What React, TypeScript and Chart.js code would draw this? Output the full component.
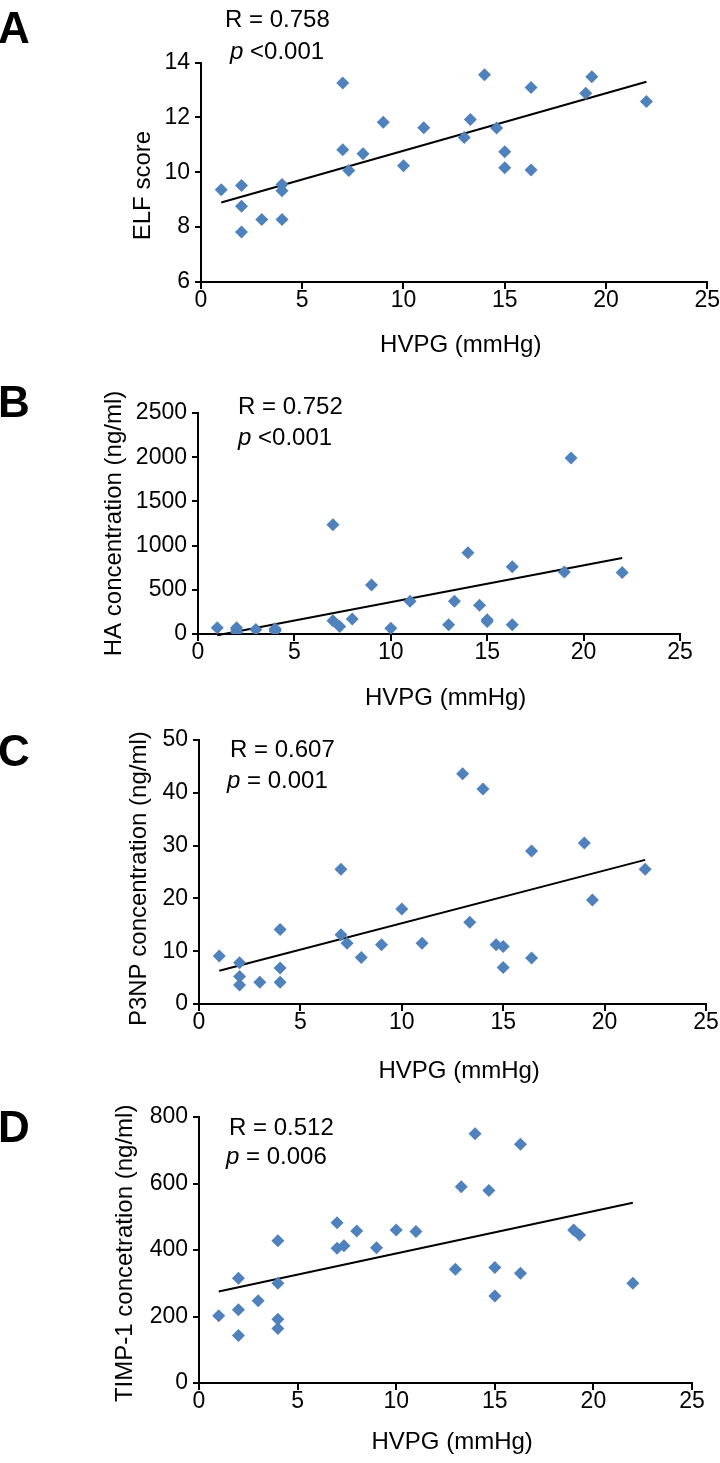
import React, { useEffect, useRef } from "react";
import { Chart, registerables } from "chart.js";

Chart.register(...registerables);

const FONT = '"Liberation Sans", Arial, Helvetica, sans-serif';
const POINT_COLOR = "#4F81BD";

// ---------- Data ----------
const xAxisTitle = "HVPG (mmHg)";
const xTickStep = 5;

// Panel A: ELF score
const hvpgA = [1, 2, 2, 2, 3, 4, 4, 4, 7, 7, 7.3, 8, 9, 10, 11, 13, 13.3, 14, 14.6, 15, 15, 16.3, 16.3, 19, 19.3, 22];
const elfScore = [9.36, 9.52, 8.76, 7.82, 8.28, 9.55, 9.33, 8.28, 13.25, 10.82, 10.06, 10.67, 11.82, 10.24, 11.62, 11.27, 11.92, 13.55, 11.61, 10.75, 10.16, 13.09, 10.08, 12.88, 13.48, 12.58];
const fitAX = [1, 22];
const fitAY = [8.9, 13.3];

// Panel B: HA concentration
const hvpgB = [1, 2, 2, 2, 3, 4, 4, 4, 7, 7, 7.35, 8, 9, 10, 11, 13, 13.3, 14, 14.6, 15, 15, 16.3, 16.3, 19, 19.35, 22];
const haConc = [70, 72, 50, 20, 50, 60, 45, 35, 1235, 150, 85, 170, 555, 65, 370, 105, 370, 920, 325, 160, 140, 760, 105, 700, 1990, 695];
const fitBX = [1, 22];
const fitBY = [-15, 860];

// Panel C: P3NP concentration
const hvpgC = [1, 2, 2, 2, 3, 4, 4, 4, 7, 7, 7.3, 8, 9, 10, 11, 13, 13.35, 14, 14.65, 15, 15, 16.4, 16.4, 19, 19.4, 22];
const p3npConc = [9.1, 7.8, 5.2, 3.6, 4.1, 14.1, 6.8, 4.1, 25.5, 13.1, 11.5, 8.8, 11.2, 18.0, 11.5, 43.6, 15.5, 40.7, 11.2, 10.9, 6.9, 29.0, 8.7, 30.5, 19.7, 25.5];
const fitCX = [1, 22];
const fitCY = [6.3, 27.3];

// Panel D: TIMP-1 concentration
const hvpgD = [1, 2, 2, 2, 3, 4, 4, 4, 4, 7, 7, 7.35, 8, 9, 10, 11, 13, 13.3, 14, 14.7, 15, 15, 16.3, 16.3, 19, 19.3, 22];
const timp1Conc = [202, 315, 220, 143, 247, 428, 300, 192, 164, 482, 405, 413, 457, 407, 460, 456, 342, 590, 750, 579, 347, 262, 718, 330, 460, 445, 300];
const fitDX = [1, 22];
const fitDY = [275, 542];

const panelLetters = ["A", "B", "C", "D"];
const yTitles = ["ELF score", "HA concentration (ng/ml)", "P3NP concentration (ng/ml)", "TIMP-1 concetration (ng/ml)"];
const rLabels = ["R = 0.758", "R = 0.752", "R = 0.607", "R = 0.512"];
const pLabels = ["<0.001", "<0.001", "= 0.001", "= 0.006"];
const yMins = [6, 0, 0, 0];
const yMaxs = [14, 2500, 50, 800];
const ySteps = [2, 500, 10, 200];

const seriesX = [hvpgA, hvpgB, hvpgC, hvpgD];
const seriesY = [elfScore, haConc, p3npConc, timp1Conc];
const fitsX = [fitAX, fitBX, fitCX, fitDX];
const fitsY = [fitAY, fitBY, fitCY, fitDY];

// ---------- Layout (pixel placement only) ----------
type Layout = {
  top: number; H: number;
  left: number; right: number; areaTop: number; bottom: number;
  yTitleX: number; yTitlePad: string; xTitlePadBottom: number;
  letterY: number; rX: number; rY: number; pX: number; pY: number;
};
const layouts: Layout[] = [
  { top: 0, H: 368, left: 201, right: 708, areaTop: 62.5, bottom: 282, yTitleX: 143, yTitlePad: "    ", xTitlePadBottom: 8.6, letterY: 43, rX: 225, rY: 27, pX: 230, pY: 59 },
  { top: 368, H: 352, left: 198, right: 680, areaTop: 45, bottom: 266, yTitleX: 114, yTitlePad: "", xTitlePadBottom: 7.6, letterY: 49, rX: 238, rY: 46, pX: 238, pY: 77 },
  { top: 720, H: 368, left: 199, right: 706, areaTop: 20, bottom: 284, yTitleX: 139, yTitlePad: "  ", xTitlePadBottom: 2.6, letterY: 46, rX: 230, rY: 37, pX: 227, pY: 68 },
  { top: 1088, H: 375, left: 199, right: 692, areaTop: 29, bottom: 295, yTitleX: 125, yTitlePad: " ", xTitlePadBottom: 6.6, letterY: 54, rX: 229, rY: 47, pX: 226, pY: 76 },
];

function Panel({ idx }: { idx: number }) {
  const ref = useRef<HTMLCanvasElement | null>(null);
  const L = layouts[idx];

  useEffect(() => {
    if (!ref.current) return;
    const xs = seriesX[idx];
    const ys = seriesY[idx];
    const fx = fitsX[idx];
    const fy = fitsY[idx];

    const textPlugin = {
      id: "panelText" + idx,
      afterDraw(chart: any) {
        const ctx = chart.ctx as CanvasRenderingContext2D;
        ctx.save();
        ctx.fillStyle = "#000";
        ctx.textAlign = "left";
        ctx.textBaseline = "alphabetic";
        ctx.font = `bold 44px ${FONT}`;
        ctx.fillText(panelLetters[idx], -2, L.letterY);
        ctx.font = `24px ${FONT}`;
        ctx.fillText(rLabels[idx], L.rX, L.rY);
        ctx.font = `italic 24px ${FONT}`;
        ctx.fillText("p", L.pX, L.pY);
        const w = ctx.measureText("p").width;
        ctx.font = `24px ${FONT}`;
        ctx.fillText(" " + pLabels[idx], L.pX + w, L.pY);
        ctx.restore();
      },
    };

    const chart = new Chart(ref.current, {
      type: "scatter",
      data: {
        datasets: [
          {
            data: xs.map((x, i) => ({ x, y: ys[i] })),
            pointStyle: "rectRot",
            pointRadius: 6.5,
            pointHoverRadius: 6.5,
            backgroundColor: POINT_COLOR,
            borderColor: POINT_COLOR,
            borderWidth: 0,
            showLine: false,
          },
          {
            data: fx.map((x, i) => ({ x, y: fy[i] })),
            showLine: true,
            borderColor: "#000",
            borderWidth: 2,
            pointRadius: 0,
            pointHoverRadius: 0,
            fill: false,
            tension: 0,
            clip: false as any,
          },
        ],
      },
      options: {
        animation: false,
        responsive: false,
        devicePixelRatio: 1,
        events: [],
        layout: { padding: { left: 0, right: 720 - L.right, top: L.areaTop, bottom: 0 } },
        plugins: { legend: { display: false }, tooltip: { enabled: false } },
        scales: {
          x: {
            type: "linear",
            min: 0,
            max: 25,
            ticks: { stepSize: xTickStep, color: "#000", font: { family: FONT, size: 23, lineHeight: 1 }, padding: 0, maxRotation: 0, autoSkip: false, callback: (v: any) => String(v) },
            grid: { drawOnChartArea: false, drawTicks: true, tickLength: 7, color: "#000", lineWidth: 2 },
            border: { display: true, color: "#000", width: 2 },
            title: { display: true, text: "  " + xAxisTitle, color: "#000", font: { family: FONT, size: 24 }, padding: { top: 0, bottom: L.xTitlePadBottom } },
            afterFit: (s: any) => { s.height = L.H - L.bottom; },
          },
          y: {
            type: "linear",
            min: yMins[idx],
            max: yMaxs[idx],
            ticks: { stepSize: ySteps[idx], color: "#000", font: { family: FONT, size: 23 }, padding: 5, autoSkip: false, callback: (v: any) => String(v) },
            grid: { drawOnChartArea: false, drawTicks: true, tickLength: 6, color: "#000", lineWidth: 2 },
            border: { display: true, color: "#000", width: 2 },
            title: { display: true, text: yTitles[idx] + L.yTitlePad, color: "#000", font: { family: FONT, size: 24 }, padding: { top: L.yTitleX - 14.4, bottom: 0 } },
            afterFit: (s: any) => { s.width = L.left; },
          },
        },
      } as any,
      plugins: [textPlugin],
    });
    return () => chart.destroy();
  }, [idx]);

  return (
    <canvas
      ref={ref}
      width={720}
      height={L.H}
      style={{ position: "absolute", left: 0, top: L.top, width: 720, height: L.H, display: "block" }}
    />
  );
}

export default function App() {
  return (
    <div style={{ position: "absolute", left: 0, top: 0, width: 720, height: 1463, background: "#fff", overflow: "hidden" }}>
      {layouts.map((_, i) => (
        <Panel key={i} idx={i} />
      ))}
    </div>
  );
}
